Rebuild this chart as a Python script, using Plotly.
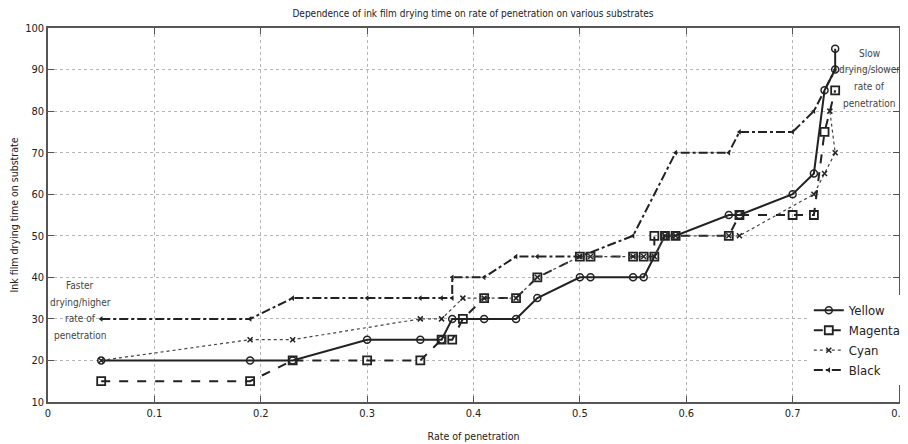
import plotly.graph_objects as go

# Yellow series
yellow_x = [0.05, 0.19, 0.23, 0.30, 0.35, 0.37, 0.38, 0.41, 0.44, 0.46, 0.50, 0.51,
            0.55, 0.56, 0.58, 0.59, 0.64, 0.65, 0.70, 0.72, 0.73, 0.74, 0.74]
yellow_y = [20, 20, 20, 25, 25, 25, 30, 30, 30, 35, 40, 40,
            40, 40, 50, 50, 55, 55, 60, 65, 85, 90, 95]

# Magenta series
magenta_x = [0.05, 0.19, 0.23, 0.30, 0.35, 0.37, 0.38, 0.39, 0.41, 0.44, 0.46, 0.50, 0.51,
             0.55, 0.56, 0.57, 0.57, 0.58, 0.59, 0.64, 0.65, 0.70, 0.72, 0.73, 0.74]
magenta_y = [15, 15, 20, 20, 20, 25, 25, 30, 35, 35, 40, 45, 45,
             45, 45, 45, 50, 50, 50, 50, 55, 55, 55, 75, 85]

# Cyan series
cyan_x = [0.05, 0.19, 0.23, 0.35, 0.37, 0.39, 0.41, 0.44, 0.46, 0.50, 0.51,
          0.55, 0.56, 0.57, 0.58, 0.59, 0.64, 0.65, 0.72, 0.73, 0.74, 0.735]
cyan_y = [20, 25, 25, 30, 30, 35, 35, 35, 40, 45, 45,
          45, 45, 45, 50, 50, 50, 50, 60, 65, 70, 80]

# Black series
black_x = [0.05, 0.19, 0.23, 0.30, 0.35, 0.37, 0.38, 0.38, 0.41, 0.44, 0.46, 0.50,
           0.55, 0.59, 0.64, 0.65, 0.70, 0.72, 0.74]
black_y = [30, 30, 35, 35, 35, 35, 35, 40, 40, 45, 45, 45,
           50, 70, 70, 75, 75, 80, 90]

x_ticks = [0, 0.1, 0.2, 0.3, 0.4, 0.5, 0.6, 0.7, 0.8]
x_tick_labels = ["0", "0.1", "0.2", "0.3", "0.4", "0.5", "0.6", "0.7", "0.8"]
y_ticks = [10, 20, 30, 40, 50, 60, 70, 80, 90, 100]

faster_lines = ["Faster", "drying/higher", "rate of", "penetration"]
slower_lines = ["Slow", "drying/slower", "rate of", "penetration"]

FONT = "DejaVu Sans Condensed, Liberation Sans Narrow, Liberation Sans, sans-serif"
INK = "#222222"

# the page body adds an 8 px offset; figure is sized to fit the 908x444 window
OFF = 8
FW, FH = 900, 436
PL, PT, PW, PH = 40, 20, 851, 374

fig = go.Figure()
fig.add_trace(go.Scatter(
    x=yellow_x, y=yellow_y, name="Yellow", mode="lines+markers",
    line=dict(color=INK, width=2, dash="solid"),
    marker=dict(symbol="circle-open", size=7, color=INK, line=dict(width=1.5)),
))
fig.add_trace(go.Scatter(
    x=magenta_x, y=magenta_y, name="Magenta", mode="lines+markers",
    line=dict(color=INK, width=2, dash="dash"),
    marker=dict(symbol="square-open", size=8, color=INK, line=dict(width=1.8)),
))
fig.add_trace(go.Scatter(
    x=cyan_x, y=cyan_y, name="Cyan", mode="lines+markers",
    line=dict(color="#444444", width=1.2, dash="dot"),
    marker=dict(symbol="x-thin-open", size=5, color=INK, line=dict(width=1.5)),
))
fig.add_trace(go.Scatter(
    x=black_x, y=black_y, name="Black", mode="lines+markers",
    line=dict(color=INK, width=2, dash="dashdot"),
    marker=dict(symbol="triangle-left", size=5, color=INK),
))


def px_to_paper(sx, sy):
    return (sx - OFF - PL) / PW, 1 - (sy - OFF - PT) / PH


faster_y = [285, 302, 318, 335]
slower_y = [53, 69, 87, 103]
for txt, sy in zip(faster_lines, faster_y):
    ax, ay = px_to_paper(80, sy)
    fig.add_annotation(x=ax, y=ay, xref="paper", yref="paper",
                       text=txt, showarrow=False, xanchor="center", yanchor="middle",
                       font=dict(family=FONT, size=10, color="#444"))
for txt, sy in zip(slower_lines, slower_y):
    ax, ay = px_to_paper(869, sy)
    fig.add_annotation(x=ax, y=ay, xref="paper", yref="paper",
                       text=txt, showarrow=False, xanchor="center", yanchor="middle",
                       font=dict(family=FONT, size=10, color="#444"))

fig.update_layout(
    width=FW, height=FH,
    margin=dict(l=PL, r=FW - PL - PW, t=PT, b=FH - PT - PH, autoexpand=False),
    paper_bgcolor="white", plot_bgcolor="white",
    title=dict(text="Dependence of ink film drying time on rate of penetration on various substrates",
               x=(473 - OFF) / FW, xanchor="center", y=1 - (13 - OFF) / FH, yanchor="middle",
               font=dict(family=FONT, size=10, color="#222")),
    font=dict(family=FONT, size=11, color="#222"),
    showlegend=True,
    legend=dict(x=0.894, y=0.285, xanchor="left", yanchor="top",
                bgcolor="white", borderwidth=0, tracegroupgap=0,
                font=dict(family=FONT, size=13, color="#222"),
                itemwidth=30),
)
fig.update_xaxes(
    range=[0, 0.8], tickvals=x_ticks, ticktext=x_tick_labels, automargin=False,
    showgrid=True, gridcolor="#b5b5b5", griddash="dot", gridwidth=1,
    showline=True, linecolor="#555", linewidth=1.5, mirror="ticks",
    ticks="inside", ticklen=6, tickcolor="#555", zeroline=False,
    title=dict(text="Rate of penetration", font=dict(family=FONT, size=10.5), standoff=14),
)
fig.update_yaxes(
    range=[10, 100], tickvals=y_ticks, automargin=False,
    showgrid=True, gridcolor="#b5b5b5", griddash="dot", gridwidth=1,
    showline=True, linecolor="#555", linewidth=1.5, mirror="ticks",
    ticks="inside", ticklen=6, tickcolor="#555", zeroline=False,
    title=dict(text="Ink film drying time on substrate", font=dict(family=FONT, size=10.5), standoff=6),
)

fig.write_html("out.html")
